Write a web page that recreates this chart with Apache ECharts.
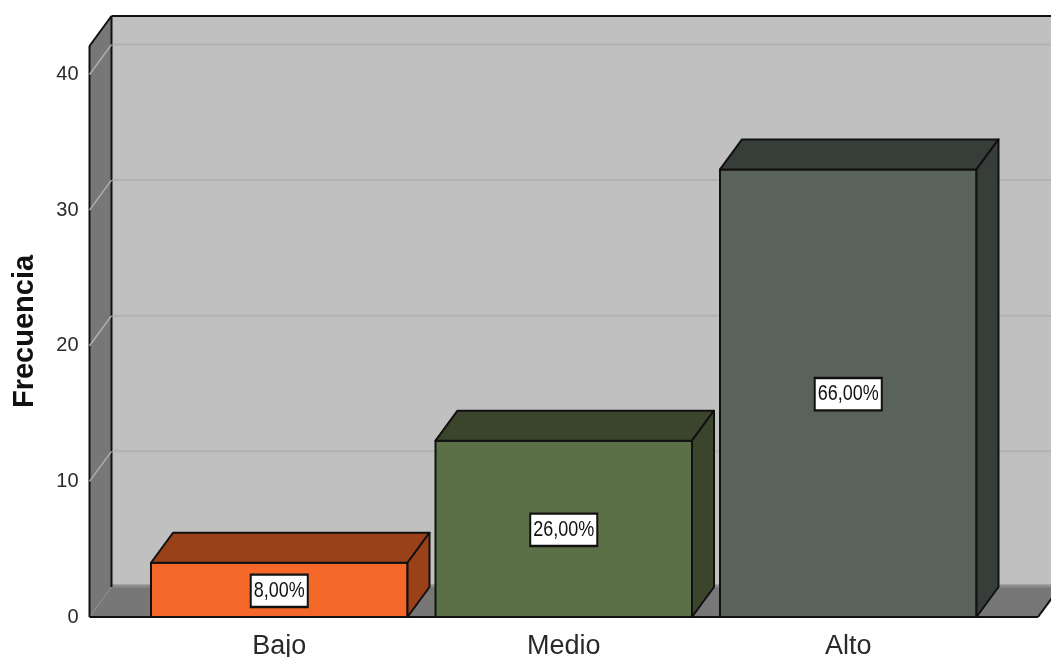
<!DOCTYPE html>
<html>
<head>
<meta charset="utf-8">
<style>html,body{margin:0;padding:0;background:#fff;overflow:hidden}#chart{width:1051px;height:657px}</style>
<script src="https://cdn.jsdelivr.net/npm/echarts@6/dist/echarts.min.js"></script>
</head>
<body>
<div id="chart"></div>
<script>
const categories = ['Bajo', 'Medio', 'Alto'];
const frequencies = [4, 13, 33];
const percentLabels = ['8,00%', '26,00%', '66,00%'];
const gridTicks = [10, 20, 30, 40];
const faceColors = ['#f5682a', '#5c7048', '#59635c'];
const shadeColors = ['#9a4119', '#3a452c', '#373e39'];

// Oblique depth of the pseudo-3D box, and how far the floor overhangs the bands.
const DX = 22, DY = -30, OVERHANG = 47.5, BAR_WIDTH = 256.5;
const INK = '#111';
const FONT = '"Liberation Sans", sans-serif';

const chart = echarts.init(document.getElementById('chart'));

function poly(points, fill, stroke, lineWidth) {
  return {
    type: 'polygon',
    shape: { points },
    style: { fill, stroke: stroke || null, lineWidth: lineWidth || 0, lineJoin: 'round' }
  };
}
function seg(a, b, stroke, lineWidth) {
  return {
    type: 'line',
    shape: { x1: a[0], y1: a[1], x2: b[0], y2: b[1] },
    style: { stroke, lineWidth }
  };
}

function renderWalls(params, api) {
  const g = params.coordSys;
  const l = g.x - OVERHANG, r = g.x + g.width + OVERHANG;
  const b = api.coord([0, 0])[1], t = g.y;
  return {
    type: 'group',
    children: [
      poly([[l + DX, t + DY], [r + DX, t + DY], [r + DX, b + DY], [l + DX, b + DY]], '#c0c0c0'),
      poly([[l, t], [l + DX, t + DY], [l + DX, b + DY], [l, b]], '#777777'),
      poly([[l, b], [l + DX, b + DY], [r + DX, b + DY], [r, b]], '#777777'),
      seg([l + DX, b + DY - 1], [r + DX, b + DY - 1], '#8c8c8c', 3),
      seg([l, t], [l + DX, t + DY], INK, 2),
      seg([l + DX, t + DY], [r + DX, t + DY], INK, 2),
      seg([l, t], [l, b], INK, 2),
      seg([l + DX, t + DY], [l + DX, b + DY], INK, 2),
      seg([l, b], [r, b], INK, 2),
      seg([r, b], [r + DX, b + DY], INK, 2)
    ]
  };
}

function renderGridline(params, api) {
  const g = params.coordSys;
  const l = g.x - OVERHANG, r = g.x + g.width + OVERHANG;
  const y = api.coord([0, api.value(0)])[1];
  return {
    type: 'group',
    children: [
      seg([l, y], [l + DX, y + DY], '#aeaeae', 1.5),
      seg([l + DX + 1, y + DY], [r + DX, y + DY], '#b2b2b2', 2)
    ]
  };
}

function renderBar(params, api) {
  const i = api.value(0), v = api.value(1);
  const top = api.coord([i, v]), base = api.coord([i, 0]);
  const x0 = top[0] - BAR_WIDTH / 2, x1 = top[0] + BAR_WIDTH / 2;
  const y0 = top[1], y1 = base[1];
  return {
    type: 'group',
    children: [
      poly([[x0, y0], [x1, y0], [x1, y1], [x0, y1]], faceColors[i], INK, 2),
      poly([[x0, y0], [x0 + DX, y0 + DY], [x1 + DX, y0 + DY], [x1, y0]], shadeColors[i], INK, 2),
      poly([[x1, y0], [x1 + DX, y0 + DY], [x1 + DX, y1 + DY], [x1, y1]], shadeColors[i], INK, 2),
      {
        type: 'text',
        x: top[0],
        y: (y0 + y1) / 2 + 1,
        scaleY: 1.2,
        z2: 10,
        style: {
          text: percentLabels[i],
          x: 0, y: 0,
          align: 'center',
          verticalAlign: 'middle',
          fontFamily: FONT,
          fontSize: 18,
          fill: '#111',
          backgroundColor: '#fff',
          borderColor: '#111',
          borderWidth: 2,
          padding: [4, 2, 3, 2]
        }
      }
    ]
  };
}

chart.setOption({
  animation: false,
  backgroundColor: '#fff',
  grid: { left: 137, width: 853.5, top: 46, height: 571, outerBoundsMode: 'none' },
  xAxis: {
    type: 'category',
    data: categories,
    axisLine: { show: false },
    axisTick: { show: false },
    axisLabel: {
      margin: 16,
      color: '#2a2a2a',
      fontSize: 27,
      fontFamily: FONT
    }
  },
  yAxis: {
    type: 'value',
    min: 0,
    max: 42.1,
    interval: 10,
    offset: OVERHANG,
    name: 'Frecuencia',
    nameLocation: 'middle',
    nameGap: 50,
    nameTextStyle: {
      color: '#111',
      fontSize: 29,
      fontWeight: 'bold',
      fontFamily: FONT
    },
    axisLine: { show: false },
    axisTick: { show: false },
    splitLine: { show: false },
    axisLabel: {
      margin: 11,
      showMaxLabel: false,
      padding: [3, 0, 0, 0],
      color: '#2a2a2a',
      fontSize: 20,
      fontFamily: FONT
    }
  },
  series: [
    {
      type: 'custom',
      name: 'walls',
      coordinateSystem: 'cartesian2d',
      silent: true,
      clip: false,
      z: 1,
      data: [[0]],
      renderItem: renderWalls
    },
    {
      type: 'custom',
      name: 'gridlines',
      coordinateSystem: 'cartesian2d',
      silent: true,
      clip: false,
      z: 2,
      encode: { y: 0 },
      data: gridTicks.map(t => [t]),
      renderItem: renderGridline
    },
    {
      type: 'custom',
      name: 'Frecuencia',
      coordinateSystem: 'cartesian2d',
      clip: false,
      z: 3,
      encode: { x: 0, y: 1 },
      data: frequencies.map((v, i) => [i, v]),
      renderItem: renderBar
    }
  ]
});
</script>
</body>
</html>
